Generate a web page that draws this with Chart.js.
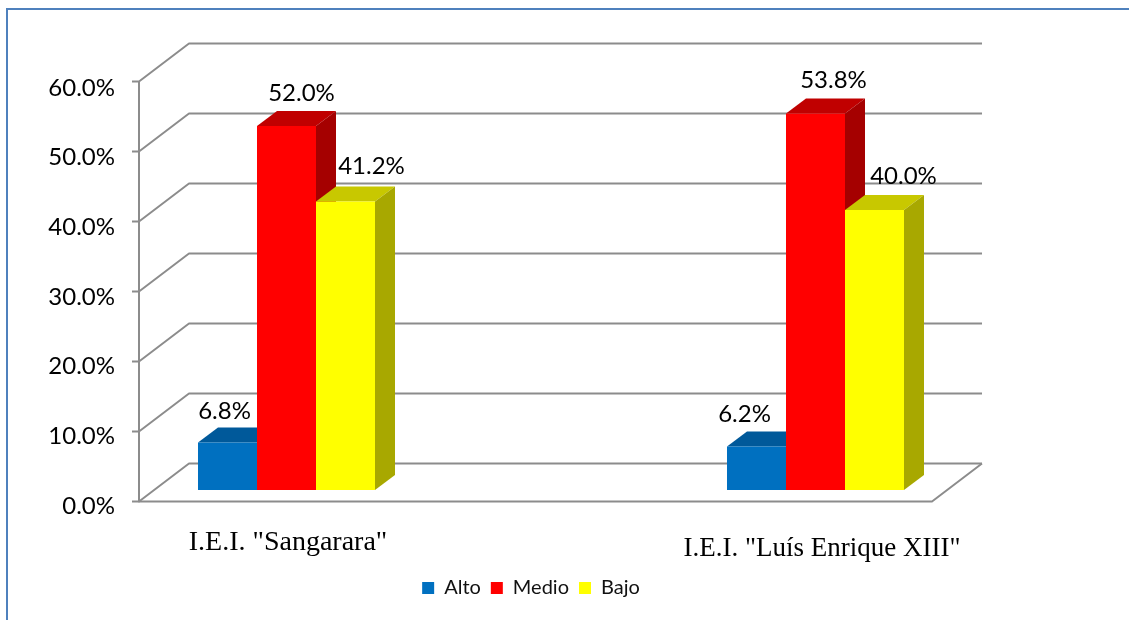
<!DOCTYPE html>
<html>
<head>
<meta charset="utf-8">
<title>Niveles por institución</title>
<script src="https://cdn.jsdelivr.net/npm/chart.js@4/dist/chart.umd.min.js"></script>
<style>
body { margin: 0; background: #fff; }
canvas { display: block; }
</style>
</head>
<body>
<canvas id="chart" width="1129" height="620"></canvas>
<script>
// ---------- DATA ----------

const categories = ['I.E.I. "Sangarara"', 'I.E.I. "Luís Enrique XIII"'];
const alto = [6.8, 6.2];
const medio = [52.0, 53.8];
const bajo = [41.2, 40.0];
const seriesNames = ["Alto", "Medio", "Bajo"];
const tickValues = [0, 10, 20, 30, 40, 50, 60];

// ---------- LOOK ----------

const frontColors = ["#0070c0", "#ff0000", "#ffff00"];
const topColors = ["#00599a", "#c00000", "#c8c800"];
const sideColors = ["#004d85", "#a50000", "#a8a800"];
const gridColor = "#8c8c8c";

// bar depth, wall depth
const barDepth = { x: 20, y: -15 };
const wallDepth = { x: 50, y: -38 };
const wallDrop = 11.5; // front of the floor sits this far under the bars

// where each value label goes, relative to the top of its bar
const labelShift = [
  [{ x: -3, y: -31 }, { x: -12, y: -32 }],
  [{ x: 15, y: -33 }, { x: 18, y: -33 }],
  [{ x: 26, y: -35 }, { x: 29, y: -34 }]
];
const catLabelShift = [{ x: 1.5, y: 37 }, { x: 6.5, y: 43 }];
const catLabelSize = [28, 27];

function poly(ctx, color, pts) {
  ctx.fillStyle = color;
  ctx.beginPath();
  pts.forEach((p, i) => i ? ctx.lineTo(p[0], p[1]) : ctx.moveTo(p[0], p[1]));
  ctx.closePath();
  ctx.fill();
}

// ---------- 3D WALLS, BAR FACES, LABELS ----------

const box3d = {
  id: "box3d",

  beforeDraw(chart) {
    const ctx = chart.ctx;
    ctx.save();
    ctx.strokeStyle = "#4f81bd";
    ctx.lineWidth = 2;
    ctx.beginPath();
    ctx.moveTo(7, 620);
    ctx.lineTo(7, 9);
    ctx.lineTo(1129, 9);
    ctx.stroke();
    ctx.restore();
  },

  beforeDatasetsDraw(chart) {
    const ctx = chart.ctx;
    const yScale = chart.scales.yBars;
    const left = 139, right = 932;

    ctx.save();
    ctx.strokeStyle = gridColor;
    ctx.lineWidth = 2;
    ctx.lineJoin = "round";

    tickValues.forEach(v => {
      const y = yScale.getPixelForValue(v) + wallDrop;
      ctx.beginPath();
      ctx.moveTo(132, y);
      ctx.lineTo(left, y);
      ctx.lineTo(left + wallDepth.x, y + wallDepth.y);
      ctx.lineTo(right + wallDepth.x, y + wallDepth.y);
      ctx.stroke();
    });

    const top = yScale.getPixelForValue(60) + wallDrop;
    const floor = yScale.getPixelForValue(0) + wallDrop;
    ctx.beginPath();
    ctx.moveTo(left, top);
    ctx.lineTo(left, floor);
    ctx.lineTo(right, floor);
    ctx.lineTo(right + wallDepth.x, floor + wallDepth.y);
    ctx.stroke();

    chart.data.datasets.forEach((ds, d) => {
      chart.getDatasetMeta(d).data.forEach(bar => {
        const l = bar.x - bar.width / 2, r = bar.x + bar.width / 2;
        const dx = barDepth.x, dy = barDepth.y;
        poly(ctx, topColors[d], [[l, bar.y], [l + dx, bar.y + dy], [r + dx, bar.y + dy], [r, bar.y]]);
        poly(ctx, sideColors[d], [[r, bar.y], [r + dx, bar.y + dy], [r + dx, bar.base + dy], [r, bar.base]]);
      });
    });
    ctx.restore();
  },

  afterDatasetsDraw(chart) {
    const ctx = chart.ctx;
    ctx.save();
    ctx.textAlign = "center";
    ctx.textBaseline = "middle";
    ctx.fillStyle = "#000";

    ctx.font = "24px Lato";
    chart.data.datasets.forEach((ds, d) => {
      chart.getDatasetMeta(d).data.forEach((bar, i) => {
        const s = labelShift[d][i];
        ctx.fillText(ds.data[i].toFixed(1) + "%", bar.x + s.x, bar.y + s.y);
      });
    });

    const xScale = chart.scales.x;
    categories.forEach((c, i) => {
      const s = catLabelShift[i];
      ctx.font = catLabelSize[i] + "px 'Liberation Serif'";
      ctx.fillText(c, xScale.getPixelForTick(i) + s.x, chart.chartArea.bottom + s.y);
    });
    ctx.restore();
  },

  // legend is centred under the plot, not the page
  afterLayout(chart) {
    chart.legend.left -= 20;
    chart.legend.right -= 20;
  }
};

// ---------- CHART ----------

new Chart(document.getElementById("chart"), {
  type: "bar",
  data: {
    labels: categories,
    datasets: [alto, medio, bajo].map((values, i) => ({
      label: seriesNames[i],
      data: values,
      yAxisID: "yBars",
      backgroundColor: frontColors[i],
      borderWidth: 0,
      categoryPercentage: 0.3346,
      barPercentage: 1
    }))
  },
  options: {
    responsive: false,
    animation: false,
    layout: { padding: { top: 88, left: 22, right: 49, bottom: 12 } },
    scales: {
      x: {
        offset: true,
        grid: { display: false },
        border: { display: false },
        ticks: { display: false },
        afterFit(scale) { scale.height = 62; }
      },
      // tick labels only
      y: {
        position: { x: -0.3242 },
        min: 0,
        max: 60,
        afterBuildTicks(scale) { scale.ticks = tickValues.map(v => ({ value: v })); },
        grid: { display: false, drawTicks: false },
        border: { display: false },
        ticks: {
          color: "#000",
          font: { family: "Lato", size: 24 },
          padding: 0,
          callback: v => v.toFixed(1) + "%"
        }
      },
      // bars sit a little above the floor front, 7px per unit
      yBars: {
        display: false,
        position: "left",
        min: -16 / 7,
        max: -16 / 7 + 418 / 7
      }
    },
    plugins: {
      tooltip: { enabled: false },
      legend: {
        position: "bottom",
        labels: {
          color: "#111",
          font: { family: "Lato", size: 20 },
          boxWidth: 12,
          boxHeight: 12,
          padding: 10
        }
      }
    }
  },
  plugins: [box3d]
});
</script>
</body>
</html>
